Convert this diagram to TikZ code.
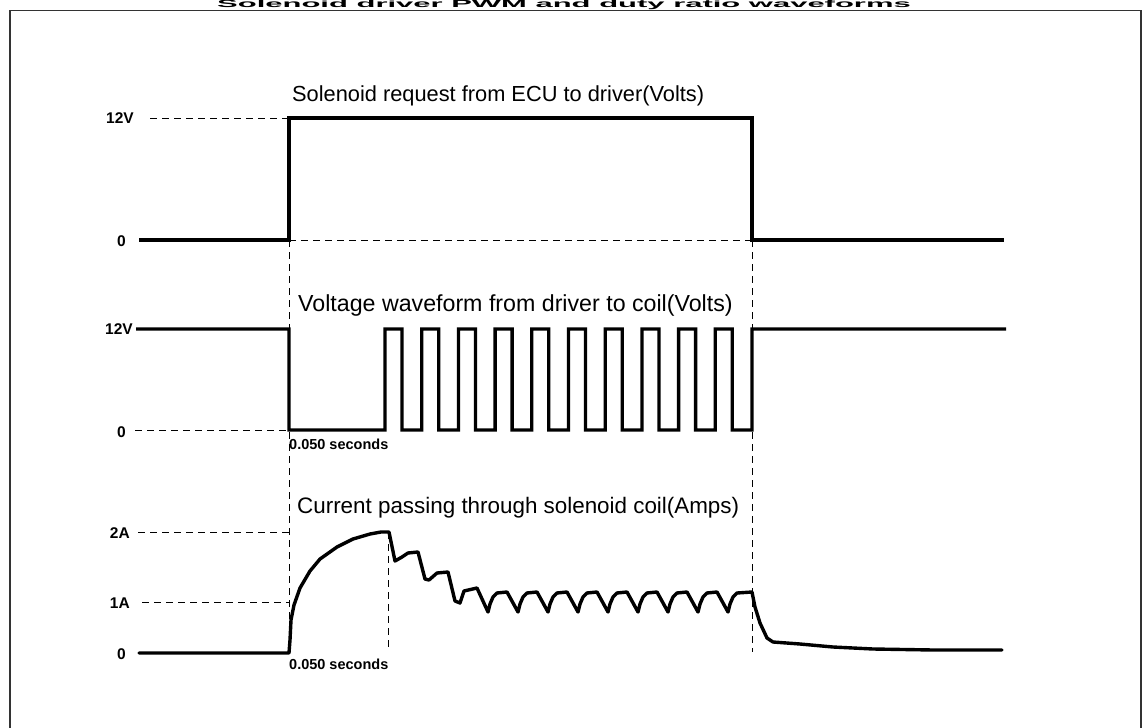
\documentclass[tikz,border=0pt]{standalone}
\usepackage{fontspec}
\setmainfont{Liberation Sans}
\begin{document}
\begin{tikzpicture}[x=1pt,y=-1pt,
  sig/.style={line width=3.3pt,line join=miter,line cap=butt},
  cur/.style={line width=3.4pt,line join=round,line cap=round},
  guide/.style={line width=1pt,dash pattern=on 7pt off 5pt},
  frame/.style={line width=1.6pt,black!80},
  ttl/.style={anchor=west,inner sep=0pt},
  lvl/.style={font=\bfseries\fontsize{15.5}{17}\selectfont,anchor=east,inner sep=0pt},
  sec/.style={font=\bfseries\fontsize{14.5}{16}\selectfont,anchor=west,inner sep=0pt}]
\useasboundingbox (0,0) rectangle (1143,728);
\begin{scope}
\clip (0,0) rectangle (1143,728);
% title (squat, wide)
\node[font=\bfseries\fontsize{10.5}{12}\selectfont,anchor=base,inner sep=0pt] (title) at (564,7.8)
  {\scalebox{2.95}[1]{Solenoid driver PWM and duty ratio waveforms}};
% frame
\draw[frame] (10,732) -- (10,10.5) -- (1141,10.5) -- (1141,732);
\end{scope}

% ---------- panel 1 ----------
\node[ttl,font=\fontsize{21.8}{24}\selectfont] (t1) at (292,96) {Solenoid request from ECU to driver(Volts)};
\node[lvl] (l1a) at (134,118) {12V};
\node[lvl] (l1b) at (126,241) {0};
\draw[guide] (150,118) -- (289,118);
\draw[guide] (289,240) -- (752,240);
\draw[sig] (139,240) -- (289,240) -- (289,118) -- (752,118) -- (752,240) -- (1004,240);

% ---------- panel 2 ----------
\node[ttl,font=\fontsize{23.2}{26}\selectfont] (t2) at (298,305) {Voltage waveform from driver to coil(Volts)};
\node[lvl] (l2a) at (133,329) {12V};
\node[lvl] (l2b) at (126,432) {0};
\draw[guide] (135,430) -- (289,430);
\draw[sig] (136,329) -- (289,329) -- (289,430) -- (385,430)
  foreach \i in {0,...,9} {
    -- ({385+\i*36.7},329) -- ({402+\i*36.7},329) -- ({402+\i*36.7},430) -- ({421.7+\i*36.7},430)
  } -- (752,329) -- (1006,329);
\node[sec] (s2) at (289,444) {0.050 seconds};

% ---------- panel 3 ----------
\node[ttl,font=\fontsize{22.4}{25}\selectfont] (t3) at (297,508) {Current passing through solenoid coil(Amps)};
\node[lvl] (l3a) at (130,533) {2A};
\node[lvl] (l3b) at (130,603) {1A};
\node[lvl] (l3c) at (126,654) {0};
\draw[guide] (138,532) -- (289,532);
\draw[guide] (142,602) -- (289,602);
\draw[guide] (388,532) -- (388,650);
\node[sec] (s3) at (289,664) {0.050 seconds};

% vertical guides
\draw[guide] (289,240) -- (289,653);
\draw[guide] (752,240) -- (752,652);

\draw[cur] (139,653) -- (289,653) -- (290,640) -- (291,620) -- (294,605) -- (300,588)
  -- (310,571) -- (320,559) -- (337,547) -- (353,539) -- (370,534) -- (381,532) -- (389,532)
  -- (395,561) -- (402,557) -- (408,553) -- (418,552)
  -- (425,579) -- (429,580) -- (437,573) -- (448,572)
  -- (455,601) -- (460,603) -- (464,591) -- (477,588)
  -- (488,612)
  foreach \v in {488,518,...,698} {
    -- (\v+2,604) -- (\v+5,597) -- (\v+9,593) -- (\v+19,592) -- (\v+30,612)
  }
  -- (730,604) -- (733,597) -- (737,593) -- (752,592)
  -- (755,607) -- (760,623) -- (767,638) -- (773,642) -- (800,644) -- (833,647)
  -- (873,649) -- (933,650) -- (1002,650);
\end{tikzpicture}
\end{document}
